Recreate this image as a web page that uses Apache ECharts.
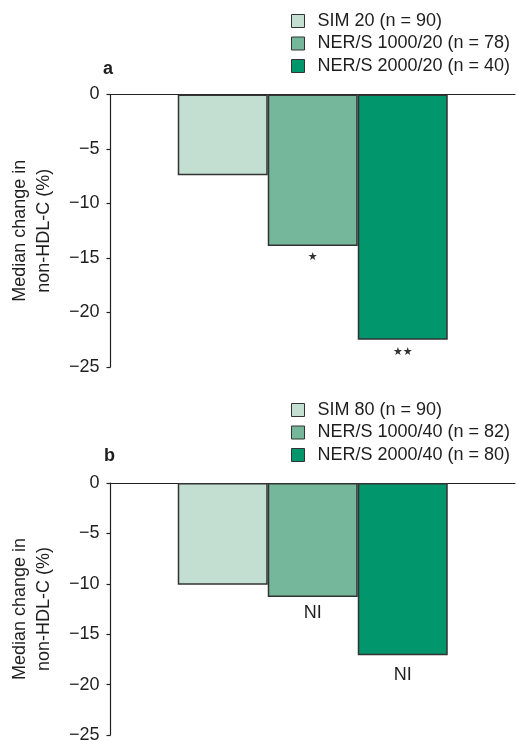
<!DOCTYPE html>
<html>
<head>
<meta charset="utf-8">
<style>
  html, body { margin: 0; padding: 0; background: #ffffff; }
  #chart { width: 519px; height: 741px; }
</style>
<script src="https://cdn.jsdelivr.net/npm/echarts@6/dist/echarts.min.js"></script>
</head>
<body>
<div id="chart"></div>
<script>
// Panel a
const seriesNamesA = ['SIM 20 (n = 90)', 'NER/S 1000/20 (n = 78)', 'NER/S 2000/20 (n = 40)'];
const valuesA = [-7.4, -13.9, -22.5];
const marksA = ['', '★', '★★'];
// Panel b
const seriesNamesB = ['SIM 80 (n = 90)', 'NER/S 1000/40 (n = 82)', 'NER/S 2000/40 (n = 80)'];
const valuesB = [-10.1, -11.3, -17.1];
const marksB = ['', 'NI', 'NI'];
// Axis
const yTickValues = [0, -5, -10, -15, -20, -25];
const yAxisName = 'Median change in\nnon-HDL-C (%)';
const panelLabels = ['a', 'b'];

// styling (not data)
const colors = ['#c3dfd1', '#75b79a', '#02966d'];
const labelGapA = [0, 6, 7];
const labelGapB = [0, 7, 11];
const FONT = '"Liberation Sans", Arial, Helvetica, sans-serif';
const TEXT = '#1e1e1e';

const chart = echarts.init(document.getElementById('chart'), null, { renderer: 'canvas' });

const grids = [
  { left: 110.5, right: 4, top: 94.5, height: 272.5, outerBoundsMode: 'none', containLabel: false },
  { left: 110.5, right: 4, top: 483, height: 252, outerBoundsMode: 'none', containLabel: false }
];

function yAxisFor(gi) {
  return {
    type: 'value',
    gridIndex: gi,
    min: yTickValues[yTickValues.length - 1],
    max: yTickValues[0],
    interval: 5,
    name: yAxisName,
    nameLocation: 'middle',
    nameGap: 54,
    nameRotate: 90,
    nameTextStyle: { fontFamily: FONT, fontSize: 18, color: TEXT, lineHeight: 24 },
    axisLine: { show: true, lineStyle: { color: '#222', width: 1.2 } },
    axisTick: { show: true, length: 4, lineStyle: { color: '#222', width: 1.2 } },
    axisLabel: {
      margin: 11, fontFamily: FONT, fontSize: 18, color: TEXT,
      formatter: v => String(v).replace('-', '\u2212')
    },
    splitLine: { show: false }
  };
}

function xAxisFor(gi) {
  return {
    type: 'category',
    gridIndex: gi,
    data: [''],
    axisLine: { show: true, onZero: true, lineStyle: { color: '#222', width: 1.2 } },
    axisTick: { show: false },
    axisLabel: { show: false },
    splitLine: { show: false }
  };
}

function buildSeries(names, values, marks, gaps, gi) {
  return names.map((n, i) => ({
    name: n,
    type: 'bar',
    xAxisIndex: gi,
    yAxisIndex: gi,
    data: [values[i]],
    barWidth: 90,
    barGap: '0%',
    itemStyle: { color: colors[i], borderColor: '#333', borderWidth: 1.5 },
    label: {
      show: marks[i] !== '',
      position: 'bottom',
      distance: gaps[i],
      formatter: () => marks[i],
      fontFamily: marks[i] === 'NI' ? FONT : '"DejaVu Sans", sans-serif',
      fontSize: marks[i] === 'NI' ? 18 : 11,
      color: marks[i] === 'NI' ? TEXT : '#333'
    },
    emphasis: { disabled: true },
    animation: false
  }));
}

function legendFor(names, top) {
  return {
    data: names,
    orient: 'vertical',
    left: 291,
    top: top,
    itemWidth: 13,
    itemHeight: 13,
    itemGap: 4.5,
    icon: 'rect',
    itemStyle: { borderColor: '#333', borderWidth: 1 },
    textStyle: { fontFamily: FONT, fontSize: 18, lineHeight: 18, color: TEXT, padding: [0, 0, 0, 8] },
    selectedMode: false,
    padding: 0
  };
}

const option = {
  backgroundColor: '#ffffff',
  animation: false,
  grid: grids,
  xAxis: [xAxisFor(0), xAxisFor(1)],
  yAxis: [yAxisFor(0), yAxisFor(1)],
  legend: [legendFor(seriesNamesA, 12), legendFor(seriesNamesB, 401)],
  title: [
    { text: panelLabels[0], left: 103, top: 60, textStyle: { fontFamily: FONT, fontSize: 18, fontWeight: 'bold', color: TEXT }, padding: 0 },
    { text: panelLabels[1], left: 104, top: 447, textStyle: { fontFamily: FONT, fontSize: 18, fontWeight: 'bold', color: TEXT }, padding: 0 }
  ],
  series: [
    ...buildSeries(seriesNamesA, valuesA, marksA, labelGapA, 0),
    ...buildSeries(seriesNamesB, valuesB, marksB, labelGapB, 1)
  ]
};

chart.setOption(option);
</script>
</body>
</html>
